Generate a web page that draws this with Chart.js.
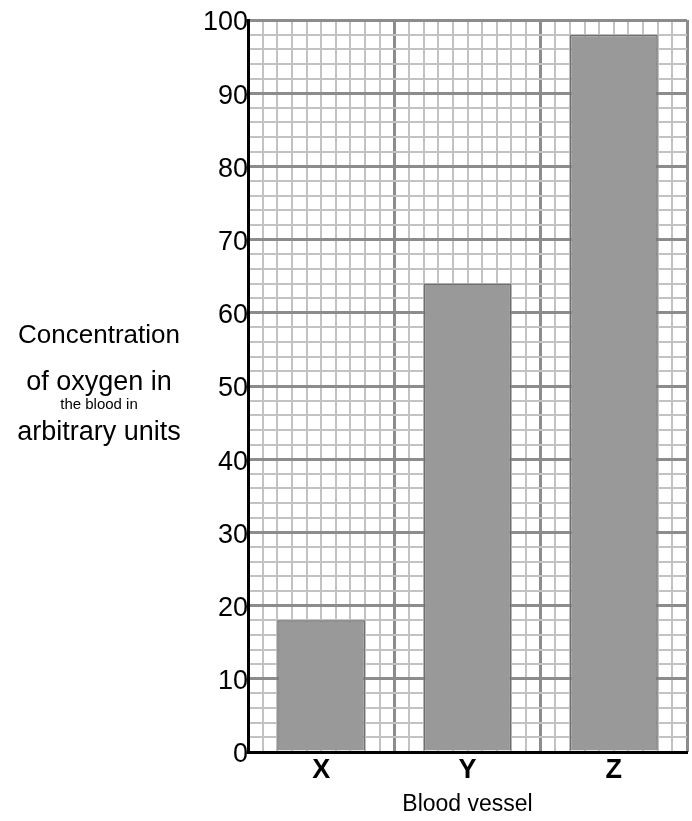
<!DOCTYPE html>
<html>
<head>
<meta charset="utf-8">
<script src="https://cdn.jsdelivr.net/npm/chart.js@4"></script>
<style>
  body { margin: 0; background: #fff; }
</style>
</head>
<body>
<canvas id="grafico" width="692" height="821"></canvas>
<script>
const vessels = ['X', 'Y', 'Z'];
const oxygen = [18, 64, 98];
const yLabelLines = ['Concentration', 'of oxygen in', 'the blood in', 'arbitrary units'];

const ctx = document.getElementById('grafico').getContext('2d');

// every 10th line is darker
const isMajor = c => c.tick && c.tick.value % 10 === 0;

// label on the left, written as plain lines (not rotated)
const leftLabel = {
  id: 'leftLabel',
  afterDraw(chart) {
    const c = chart.ctx;
    const fonts = ['26px "Liberation Sans"', '27px "Liberation Sans"', '15px "Liberation Sans"', '27px "Liberation Sans"'];
    const base = [343, 390, 409, 440];
    c.save();
    c.fillStyle = '#000';
    c.textAlign = 'center';
    c.textBaseline = 'alphabetic';
    yLabelLines.forEach((t, i) => {
      c.font = fonts[i];
      c.fillText(t, 99, base[i]);
    });
    c.restore();
  }
};

new Chart(ctx, {
  type: 'bar',
  data: {
    labels: vessels,
    datasets: [{
      data: oxygen,
      backgroundColor: '#999999',
      borderColor: '#6e6e6e',
      borderWidth: 1.5,
      barPercentage: 0.6,
      categoryPercentage: 1
    }]
  },
  options: {
    responsive: false,
    animation: false,
    layout: { padding: { top: 20, right: 5, left: 0, bottom: 0 } },
    plugins: {
      legend: { display: false },
      tooltip: { enabled: false }
    },
    scales: {
      x: {
        grid: { display: false, drawTicks: false },
        border: { color: '#000', width: 3 },
        ticks: { color: '#000', padding: 2, font: { family: 'Liberation Sans', size: 27, weight: 'bold' } },
        title: { display: true, text: 'Blood vessel', color: '#000', padding: { top: 0, bottom: 3 },
          font: { family: 'Liberation Sans', size: 23 } },
        afterFit: s => { s.height = 69; }
      },
      // hidden axis only for the fine vertical grid
      xg: {
        type: 'linear', position: 'top', min: 0, max: 30, offset: false,
        ticks: { display: false, stepSize: 1 },
        border: { display: false },
        grid: {
          offset: false,
          drawTicks: false,
          color: c => isMajor(c) ? '#8c8c8c' : '#c2c2c2',
          lineWidth: c => isMajor(c) ? 3 : 2
        },
        afterFit: s => { s.height = 0; }
      },
      y: {
        min: 0, max: 100,
        border: { color: '#000', width: 3 },
        grid: {
          drawTicks: false,
          color: c => isMajor(c) ? '#8c8c8c' : '#c2c2c2',
          lineWidth: c => isMajor(c) ? 3 : 2
        },
        ticks: {
          stepSize: 2, autoSkip: false, padding: 0, labelOffset: 3, color: '#000',
          font: { family: 'Liberation Sans', size: 27 },
          callback: v => v % 10 === 0 ? v : ''
        },
        afterFit: s => { s.width = 248; }
      }
    }
  },
  plugins: [leftLabel]
});
</script>
</body>
</html>
